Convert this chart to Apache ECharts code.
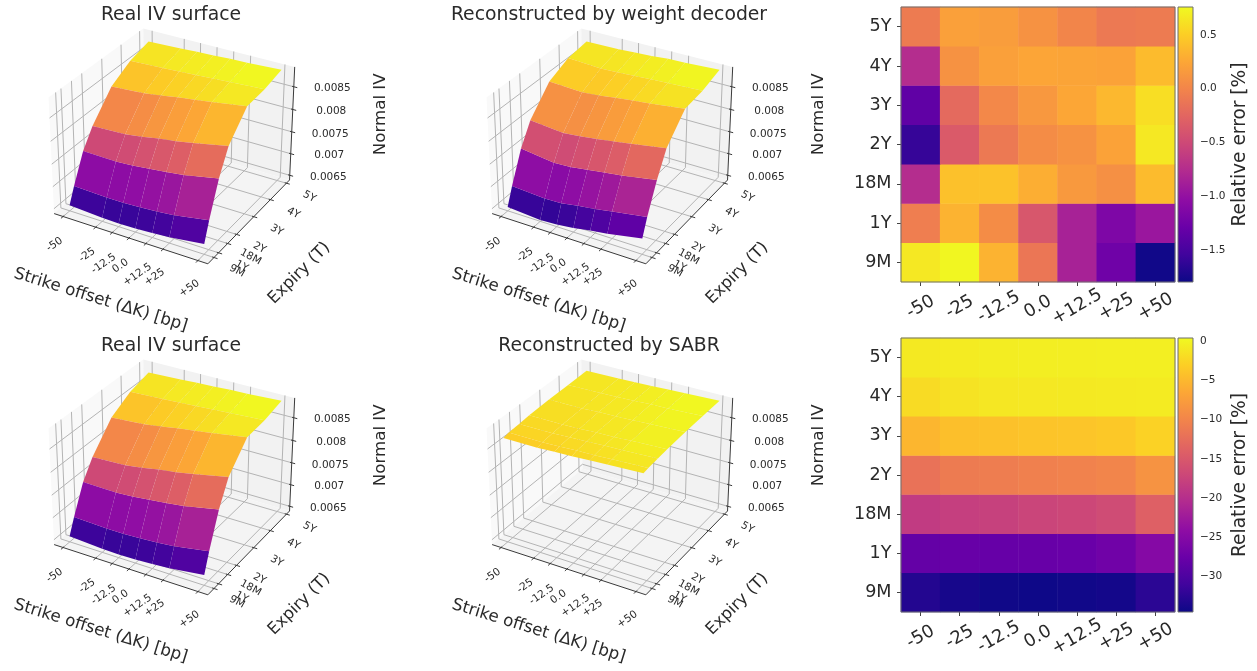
<!DOCTYPE html>
<html><head><meta charset="utf-8">
<style>html,body{margin:0;padding:0;background:#fff}#c{width:1257px;height:671px;filter:blur(0.6px)}</style>
<script src="https://cdn.jsdelivr.net/npm/echarts@6/dist/echarts.min.js"></script>
</head><body><div id="c"></div>
<script>
// ---------- data ----------
const strikes = [-50, -25, -12.5, 0, 12.5, 25, 50];
const strikeLabels = ['-50', '-25', '-12.5', '0.0', '+12.5', '+25', '+50'];
const expiries = [0.75, 1, 1.5, 2, 3, 4, 5];
const expiryLabels = ['9M', '1Y', '18M', '2Y', '3Y', '4Y', '5Y'];
const ivTicks = [0.0065, 0.007, 0.0075, 0.008, 0.0085];
const ivTickLabels = ['0.0065', '0.007', '0.0075', '0.008', '0.0085'];

// rows follow expiries, columns follow strikes
const realIV = [
  [.00652, .00647, .00646, .00647, .00649, .00652, .00662],
  [.00686, .00683, .00683, .00685, .00687, .00691, .00704],
  [.00746, .00745, .00747, .00751, .00755, .00760, .00775],
  [.00784, .00787, .00792, .00799, .00804, .00811, .00826],
  [.00838, .00843, .00848, .00854, .00859, .00864, .00875],
  [.00863, .00866, .00868, .00870, .00872, .00874, .00878],
  [.00875, .00878, .00880, .00881, .00883, .00884, .00888]
];
const decoderIV = [
  [.00648, .00642, .00644, .00648, .00655, .00660, .00674],
  [.00686, .00681, .00682, .00688, .00693, .00699, .00711],
  [.00752, .00742, .00744, .00749, .00754, .00759, .00772],
  [.00797, .00790, .00793, .00798, .00803, .00809, .00821],
  [.00849, .00845, .00848, .00853, .00857, .00861, .00870],
  [.00869, .00865, .00866, .00868, .00870, .00872, .00875],
  [.00875, .00876, .00878, .00880, .00883, .00884, .00888]
];
const sabrIV = [
  [.00868, .00868, .00870, .00871, .00873, .00875, .00878],
  [.00871, .00871, .00872, .00874, .00875, .00877, .00880],
  [.00873, .00873, .00875, .00876, .00878, .00879, .00882],
  [.00875, .00875, .00876, .00878, .00879, .00881, .00884],
  [.00877, .00877, .00879, .00880, .00881, .00883, .00886],
  [.00878, .00879, .00880, .00881, .00883, .00884, .00887],
  [.00879, .00880, .00881, .00882, .00884, .00885, .00888]
];
const decoderError = [
  [ .66,  .74,  .33, -.12, -.85, -1.25, -1.78],
  [-.06,  .33,  .05, -.38, -.85, -1.15, -.95],
  [-.75,  .42,  .43,  .30,  .15,  .08,  .38],
  [-1.6, -.35, -.10,  .05,  .10,  .22,  .66],
  [-1.35, -.22, .02,  .14,  .25,  .36,  .60],
  [-.75,  .10,  .20,  .24,  .23,  .22,  .38],
  [-.08,  .20,  .18,  .10,  .00, -.10, -.08]
];
const sabrError = [
  [-33, -33.8, -34.3, -34.4, -34.2, -34, -32.5],
  [-28, -27.8, -27.9, -27.8, -27.6, -27, -25],
  [-18.5, -18, -17.8, -17.3, -17, -16.5, -14],
  [-12, -11, -10.8, -10.5, -10.3, -10, -8.5],
  [-5.2, -4.4, -4.2, -4, -3.9, -3.6, -2.8],
  [-2, -1.4, -1.1, -1, -.9, -.8, -.7],
  [-.9, -.7, -.6, -.5, -.5, -.4, -.4]
];
const decoderBarRange = [-1.8, 0.76];
const decoderBarTicks = [-1.5, -1, -0.5, 0, 0.5];
const sabrBarRange = [-34.5, 0.4];
const sabrBarTicks = [-30, -25, -20, -15, -10, -5, 0];
const plasma = ['#0d0887','#41049d','#6a00a8','#8f0da4','#b12a90','#cc4778','#e16462','#f2844b','#fca636','#fcce25','#f0f921'];

// ---------- 3D view ----------
const xLim = [-57, 57], tLim = [0.42, 5.2], zLim = [0.00639, 0.00893];
const surfaceColourLim = [0.00645, 0.00882], sabrColourLim = [0.0071, 0.00887];
const boxXY = 1.19, boxZ = 0.893, viewDist = 10;
const elev = 30 * Math.PI / 180, azim = -60 * Math.PI / 180;
const nv = [Math.cos(elev) * Math.cos(azim), Math.cos(elev) * Math.sin(azim), Math.sin(elev)];
const uv = [-Math.sin(azim), Math.cos(azim), 0];
const vv = [nv[1] * uv[2] - nv[2] * uv[1], nv[2] * uv[0] - nv[0] * uv[2], nv[0] * uv[1] - nv[1] * uv[0]];
const dot = (p, q) => p[0] * q[0] + p[1] * q[1] + p[2] * q[2];
function project(x, t, z) {
  const p = [
    (x - (xLim[0] + xLim[1]) / 2) / (xLim[1] - xLim[0]) * boxXY,
    (t - (tLim[0] + tLim[1]) / 2) / (tLim[1] - tLim[0]) * boxXY,
    (z - (zLim[0] + zLim[1]) / 2) / (zLim[1] - zLim[0]) * boxZ
  ];
  const c = dot(p, nv), f = viewDist / (viewDist - c);
  return [dot(p, uv) * f, dot(p, vv) * f, c];
}
function mixColour(c) {
  c = Math.max(0, Math.min(1, c)) * (plasma.length - 1);
  const i = Math.min(Math.floor(c), plasma.length - 2), k = c - i;
  const rgb = h => [1, 3, 5].map(s => parseInt(h.substr(s, 2), 16));
  const a = rgb(plasma[i]), b = rgb(plasma[i + 1]);
  return 'rgb(' + a.map((v, n) => Math.round(v + (b[n] - v) * k)).join(',') + ')';
}

const axisDark = '#3a3a3a', gridGrey = '#b4b4b4', textCol = '#2a2a2a';
const FONT = '"DejaVu Sans"';
const SCALE = 148, R = 130; // px per projected unit; half size of the projected-plane grid in px
const RANGE = R / SCALE;

const option = {
  animation: false, backgroundColor: '#fff',
  title: [], grid: [], xAxis: [], yAxis: [], series: [], visualMap: []
};

function addSurfacePanel(ox, oy, titleText, surface, colourLim) {
  const g = option.grid.length;
  option.grid.push({left: ox - R, top: oy - R, width: 2 * R, height: 2 * R, show: false});
  option.xAxis.push({type: 'value', gridIndex: g, min: -RANGE, max: RANGE, show: false});
  option.yAxis.push({type: 'value', gridIndex: g, min: -RANGE, max: RANGE, show: false});
  option.title.push({text: titleText, left: ox - 8, top: oy - 139.5, textAlign: 'center',
    textStyle: {fontFamily: FONT, fontSize: 18.8, fontWeight: 'normal', color: textCol}});
  const base = {type: 'custom', coordinateSystem: 'cartesian2d', xAxisIndex: g, yAxisIndex: g, silent: true, clip: false, animation: false};
  const [x0, x1] = xLim, [t0, t1] = tLim, [z0, z1] = zLim;

  // panes
  const panes = [
    {c: '#f9f9f9', p: [[x0, t0, z0], [x0, t1, z0], [x0, t1, z1], [x0, t0, z1]]},
    {c: '#f2f2f2', p: [[x0, t1, z0], [x1, t1, z0], [x1, t1, z1], [x0, t1, z1]]},
    {c: '#f4f4f4', p: [[x0, t0, z0], [x1, t0, z0], [x1, t1, z0], [x0, t1, z0]]}
  ];
  option.series.push(Object.assign({}, base, {z: 1, data: panes.map(q => project(...q.p[0]).slice(0, 2)),
    renderItem(params, api) {
      const q = panes[params.dataIndex];
      return {type: 'polygon', shape: {points: q.p.map(v => api.coord(project(...v)))}, style: {fill: q.c}};
    }}));

  // grid lines on panes, then axis lines and ticks
  const segs = [];
  strikes.forEach(s => {
    segs.push({a: [s, t0, z0], b: [s, t1, z0], c: gridGrey, w: 1});
    segs.push({a: [s, t1, z0], b: [s, t1, z1], c: gridGrey, w: 1});
  });
  expiries.forEach(t => {
    segs.push({a: [x0, t, z0], b: [x1, t, z0], c: gridGrey, w: 1});
    segs.push({a: [x0, t, z0], b: [x0, t, z1], c: gridGrey, w: 1});
  });
  ivTicks.forEach(z => {
    segs.push({a: [x0, t0, z], b: [x0, t1, z], c: gridGrey, w: 1});
    segs.push({a: [x0, t1, z], b: [x1, t1, z], c: gridGrey, w: 1});
  });
  segs.push({a: [x0, t0, z0], b: [x1, t0, z0], c: axisDark, w: 1});
  segs.push({a: [x1, t0, z0], b: [x1, t1, z0], c: axisDark, w: 1});
  segs.push({a: [x1, t1, z0], b: [x1, t1, z1], c: axisDark, w: 1});
  const dt = (t1 - t0) * 0.022, dx = (x1 - x0) * 0.022;
  strikes.forEach(s => segs.push({a: [s, t0 + dt / 2, z0], b: [s, t0 - dt, z0], c: axisDark, w: 1}));
  expiries.forEach(t => segs.push({a: [x1 - dx / 2, t, z0], b: [x1 + dx, t, z0], c: axisDark, w: 1}));
  ivTicks.forEach(z => segs.push({a: [x1 - dx / 2, t1, z], b: [x1 + dx, t1, z], c: axisDark, w: 1}));
  option.series.push(Object.assign({}, base, {z: 2, data: segs.map(q => project(...q.a).slice(0, 2)),
    renderItem(params, api) {
      const q = segs[params.dataIndex];
      const A = api.coord(project(...q.a)), B = api.coord(project(...q.b));
      return {type: 'line', shape: {x1: A[0], y1: A[1], x2: B[0], y2: B[1]}, style: {stroke: q.c, lineWidth: q.w}};
    }}));

  // surface faces, painter sorted
  const faces = [];
  for (let j = 0; j < expiries.length - 1; j++) for (let i = 0; i < strikes.length - 1; i++) {
    const verts = [[strikes[i], expiries[j], surface[j][i]], [strikes[i + 1], expiries[j], surface[j][i + 1]],
      [strikes[i + 1], expiries[j + 1], surface[j + 1][i + 1]], [strikes[i], expiries[j + 1], surface[j + 1][i]]];
    const mean = verts.reduce((s, v) => s + v[2], 0) / 4;
    const depth = verts.reduce((s, v) => s + project(...v)[2], 0) / 4;
    faces.push({verts, mean, depth});
  }
  faces.sort((p, q) => p.depth - q.depth);
  option.series.push(Object.assign({}, base, {z: 3, data: faces.map(q => project(...q.verts[0]).slice(0, 2)),
    renderItem(params, api) {
      const q = faces[params.dataIndex];
      return {type: 'polygon', shape: {points: q.verts.map(v => api.coord(project(...v)))},
        style: {fill: mixColour((q.mean - colourLim[0]) / (colourLim[1] - colourLim[0]))}};
    }}));

  // tick labels + axis names
  const labels = [];
  strikeLabels.forEach((s, i) => labels.push({at: [strikes[i], t0, z0], dx: -8.5, dy: 28 + (s.length - 3) * 1.6, text: s, rot: 0.6, size: 10.5}));
  expiryLabels.forEach((s, i) => labels.push({at: [x1, expiries[i], z0], dx: 23, dy: 13.5, text: s, rot: -0.5, size: 10.5}));
  ivTickLabels.forEach((s, i) => labels.push({at: [x1, t1, ivTicks[i]], dx: 38.5, dy: 2, text: s, rot: 0, size: 10.5}));
  labels.push({at: [0, tLim[0], zLim[0]], abs: [-73.3, 159.5], text: 'Strike offset (ΔK) [bp]', rot: -0.3, size: 16.7});
  labels.push({at: [0, tLim[0], zLim[0]], abs: [125.3, 132.8], text: 'Expiry (T)', rot: 0.785, size: 16.5});
  labels.push({at: [0, tLim[0], zLim[0]], abs: [207, -26.2], text: 'Normal IV', rot: Math.PI / 2, size: 16.7});
  option.series.push(Object.assign({}, base, {z: 4, data: labels.map(q => project(...q.at).slice(0, 2)),
    renderItem(params, api) {
      const q = labels[params.dataIndex];
      let pos;
      if (q.abs) { const o = api.coord([0, 0]); pos = [o[0] + q.abs[0], o[1] + q.abs[1]]; }
      else { const p = api.coord(project(...q.at)); pos = [p[0] + q.dx, p[1] + q.dy]; }
      return {type: 'text', x: pos[0], y: pos[1], rotation: q.rot,
        style: {text: q.text, fontFamily: FONT, fontSize: q.size, fill: textCol, align: 'center', verticalAlign: 'middle'}};
    }}));
}

function addHeatmapPanel(left, top, width, height, errors, barRange, barTicks, barLeft, barWidth, fmt) {
  const g = option.grid.length;
  option.grid.push({left, top, width, height, show: true, borderColor: '#6f6f6f', borderWidth: 1, backgroundColor: 'transparent', z: 5});
  option.xAxis.push({type: 'category', gridIndex: g, data: strikeLabels, splitArea: {show: false}, splitLine: {show: false},
    axisLine: {show: false}, axisTick: {show: true, alignWithLabel: true, length: 4, lineStyle: {color: '#444'}},
    axisLabel: {interval: 0, rotate: 30, align: 'center', verticalAlign: 'middle', margin: 25, hideOverlap: false, fontFamily: FONT, fontSize: 17.8, color: textCol}});
  option.yAxis.push({type: 'category', gridIndex: g, data: expiryLabels, splitArea: {show: false}, splitLine: {show: false},
    axisLine: {show: false}, axisTick: {show: true, alignWithLabel: true, length: 4, lineStyle: {color: '#444'}},
    axisLabel: {interval: 0, margin: 9.5, padding: [4, 0, 0, 0], fontFamily: FONT, fontSize: 17.6, color: textCol}});
  const cells = [];
  errors.forEach((row, j) => row.forEach((v, i) => cells.push([i, j, v])));
  const sIdx = option.series.length;
  option.series.push({type: 'heatmap', xAxisIndex: g, yAxisIndex: g, data: cells, silent: true, z: 2, itemStyle: {borderWidth: 0}, progressive: 0});
  option.visualMap.push({show: false, type: 'continuous', seriesIndex: sIdx, dimension: 2, min: barRange[0], max: barRange[1], inRange: {color: plasma}});

  // colour bar
  const b = option.grid.length;
  option.grid.push({left: barLeft, top, width: barWidth, height, show: true, borderColor: '#6f6f6f', borderWidth: 1, backgroundColor: 'transparent', z: 5});
  option.xAxis.push({type: 'value', gridIndex: b, min: 0, max: 1, show: false});
  option.yAxis.push({type: 'value', gridIndex: b, position: 'right', min: barRange[0], max: barRange[1],
    axisLine: {show: false}, splitLine: {show: false},
    axisTick: {show: true, length: 4, lineStyle: {color: '#444'}, customValues: barTicks},
    axisLabel: {show: true, customValues: barTicks, margin: 7, fontFamily: FONT, fontSize: 10.5, color: textCol,
      formatter: v => fmt(v).replace('-', '\u2212')},
    name: 'Relative error [%]', nameLocation: 'middle', nameRotate: 90, nameGap: 38,
    nameTextStyle: {fontFamily: FONT, fontSize: 18.6, color: textCol}});
  option.series.push({type: 'custom', coordinateSystem: 'cartesian2d', xAxisIndex: b, yAxisIndex: b, silent: true, z: 2, clip: false,
    data: [[0, barRange[0], 1, barRange[1]]],
    renderItem(params, api) {
      const A = api.coord([api.value(0), api.value(1)]), B = api.coord([api.value(2), api.value(3)]);
      const stops = plasma.map((c, i) => ({offset: i / (plasma.length - 1), color: c}));
      return {type: 'rect', shape: {x: A[0], y: B[1], width: B[0] - A[0], height: A[1] - B[1]},
        style: {fill: new echarts.graphic.LinearGradient(0, 1, 0, 0, stops)}};
    }});
}

addSurfacePanel(174, 140.5, 'Real IV surface', realIV, surfaceColourLim);
addSurfacePanel(612, 140.5, 'Reconstructed by weight decoder', decoderIV, surfaceColourLim);
addSurfacePanel(174, 471.5, 'Real IV surface', realIV, surfaceColourLim);
addSurfacePanel(612, 471.5, 'Reconstructed by SABR', sabrIV, sabrColourLim);
addHeatmapPanel(901, 7, 274, 275, decoderError, decoderBarRange, decoderBarTicks, 1178, 15, v => v.toFixed(1));
addHeatmapPanel(901, 338, 274, 274, sabrError, sabrBarRange, sabrBarTicks, 1178, 15, v => String(v));

const chart = echarts.init(document.getElementById('c'), null, {renderer: 'canvas'});
chart.setOption(option);
</script></body></html>
